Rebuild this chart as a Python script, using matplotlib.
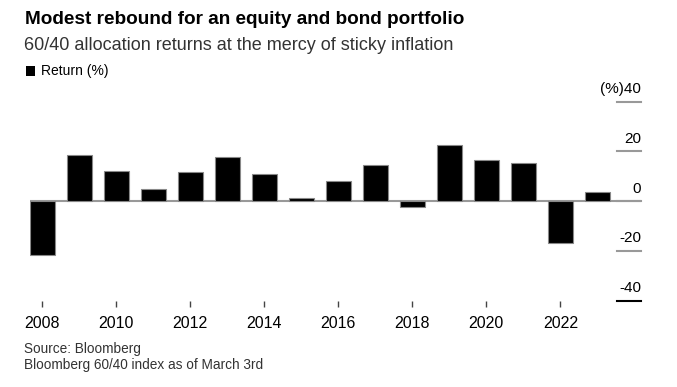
import matplotlib.pyplot as plt
import matplotlib.transforms as mtransforms
from matplotlib.patches import Rectangle

plt.rcParams['font.family'] = ['Liberation Sans', 'DejaVu Sans']

years = list(range(2008, 2024))
returns = [-21.7, 18.6, 12.2, 5.0, 11.7, 17.8, 11.0, 1.4,
           8.1, 14.6, -2.3, 22.6, 16.6, 15.4, -16.7, 3.8]
yticks = [-40, -20, 0, 20, 40]
xticks = list(range(2008, 2024, 2))

W, H = 677, 387
fig = plt.figure(figsize=(W / 100, H / 100), dpi=100)

# axes box in pixels: x 30..641, y 101.7..300.7
L, R, T, B = 30, 641, 101.7, 300.7
ax = fig.add_axes([L / W, 1 - B / H, (R - L) / W, (B - T) / H])

ax.bar(years, returns, width=0.68, color='black', edgecolor='#888888', linewidth=0.8, zorder=3)
ax.set_xlim(2007.668, 2024.18)
ax.set_ylim(-40, 40)

for s in ax.spines.values():
    s.set_visible(False)

ax.axhline(0, color='#999999', lw=1.5, zorder=2)

ax.set_xticks(xticks)
ax.set_xticklabels([str(x) for x in xticks], fontsize=11.5, color='black')
ax.tick_params(axis='x', length=4, width=1, color='#444444', pad=7)
ax.set_yticks([])

# right-hand scale: short tick lines with labels above them
trans = mtransforms.blended_transform_factory(ax.transAxes, ax.transData)
for v in yticks:
    c = 'black' if v == -40 else '#999999'
    ax.plot([1 - 24 / (R - L), 1.0], [v, v], color=c, lw=1.5, transform=trans,
            clip_on=False, zorder=4 if v == 0 else 1)
    lab = f'(%){v}' if v == 40 else str(v)
    ax.annotate(lab, xy=(1.0, v), xycoords=trans, xytext=(0, 4), textcoords='offset points',
                ha='right', va='bottom', fontsize=11, color='black')

fig.text(25 / W, 1 - 20 / H, 'Modest rebound for an equity and bond portfolio',
         fontsize=13.7, fontweight='bold', color='black', va='center', ha='left')
fig.text(24 / W, 1 - 45 / H, '60/40 allocation returns at the mercy of sticky inflation',
         fontsize=13, color='#333333', va='center', ha='left')

fig.patches.append(Rectangle((26 / W, 1 - 76 / H), 9 / W, 10 / H, transform=fig.transFigure,
                             facecolor='black', edgecolor='none'))
fig.text(41 / W, 1 - 71 / H, 'Return (%)', fontsize=10, color='black', va='center', ha='left')

fig.text(24 / W, 1 - 349 / H, 'Source: Bloomberg', fontsize=9.8, color='#333333', va='center')
fig.text(24 / W, 1 - 365 / H, 'Bloomberg 60/40 index as of March 3rd', fontsize=9.8,
         color='#333333', va='center')

fig.savefig('out.png', dpi=100)
